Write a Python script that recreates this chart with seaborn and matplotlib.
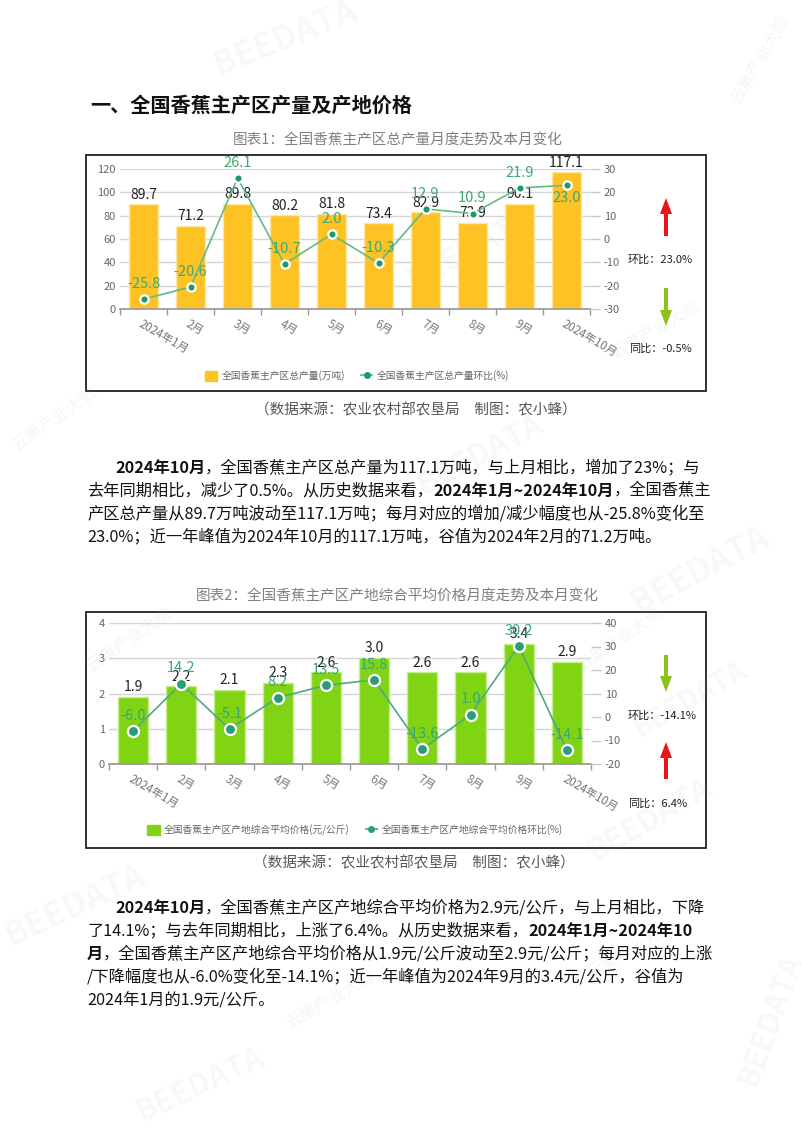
import numpy as np
import pandas as pd
import matplotlib
matplotlib.use("Agg")
import matplotlib.pyplot as plt
import seaborn as sns
from matplotlib.patches import Patch, Rectangle
from matplotlib.lines import Line2D

# 数据
months = ["2024年1月", "2月", "3月", "4月", "5月", "6月", "7月", "8月", "9月", "2024年10月"]
output = [89.7, 71.2, 89.8, 80.2, 81.8, 73.4, 82.9, 73.9, 90.1, 117.1]
output_mom = [-25.8, -20.6, 26.1, -10.7, 2.0, -10.3, 12.9, 10.9, 21.9, 23.0]
price = [1.9, 2.2, 2.1, 2.3, 2.6, 3.0, 2.6, 2.6, 3.4, 2.9]
price_mom = [-6.0, 14.2, -5.1, 8.2, 13.5, 15.8, -13.6, 1.0, 30.2, -14.1]

sns.set_theme(style="white")
plt.rcParams['font.family'] = ['Noto Sans CJK SC', 'DejaVu Sans']
plt.rcParams['axes.unicode_minus'] = False

W, H = 802, 1133
fig = plt.figure(figsize=(W / 100, H / 100), dpi=100)
fig.patch.set_facecolor("white")

# 背景层，按像素坐标排版
bg = fig.add_axes([0, 0, 1, 1], zorder=0)
bg.set_xlim(0, W)
bg.set_ylim(H, 0)
bg.axis("off")


def frac(x0, y0, x1, y1):
    return [x0 / W, 1 - y1 / H, (x1 - x0) / W, (y1 - y0) / H]


def draw_chart(box, vals, mom, bar_color, edge_color, line_color, dot_color, lab_color,
               ylim_l, yticks_l, ylim_r, yticks_r, names, legend_xy, below=(), ms=6.5):
    ax = fig.add_axes(frac(*box), zorder=2)
    ax.patch.set_alpha(0)
    df = pd.DataFrame({"月份": months, "值": vals, "环比": mom, "pos": range(len(months))})
    sns.barplot(data=df, x="月份", y="值", color=bar_color, width=0.63, saturation=1,
                edgecolor=edge_color, linewidth=1, ax=ax)
    ax.bar_label(ax.containers[0], fmt="%.1f", padding=2, fontsize=10, color="#222")
    ax.set_ylim(*ylim_l)
    ax.set_yticks(yticks_l)
    ax.yaxis.grid(True, color="#d6d6d6", lw=1)
    ax.set_axisbelow(True)
    for s in ["left", "right", "top"]:
        ax.spines[s].set_visible(False)
    ax.spines["bottom"].set_color("#999")
    ax.set_xlabel("")
    ax.set_ylabel("")
    ax.tick_params(axis="y", length=0, labelsize=8, labelcolor="#666", pad=3)
    ax.set_xticks(range(len(months)))
    ax.set_xticklabels(months, rotation=-30, ha="left", rotation_mode="anchor",
                       fontsize=8.3, color="#777")
    ax.set_xticks(np.arange(-0.5, len(months), 1), minor=True)
    ax.tick_params(axis="x", which="major", length=0, pad=6)
    ax.tick_params(axis="x", which="minor", bottom=True, length=4, color="#999")

    axr = ax.twinx()
    sns.lineplot(data=df, x="pos", y="环比", ax=axr, color=line_color, lw=1.2,
                 marker="o", markersize=ms, markerfacecolor=dot_color,
                 markeredgecolor="white", markeredgewidth=1.6, zorder=5)
    for i, v in enumerate(mom):
        dy = -14 if i in below else 6
        axr.annotate(f"{v:.1f}", (i, v), xytext=(0, dy), textcoords="offset points",
                     ha="center", va="bottom", fontsize=10.5, color=lab_color, zorder=6)
    axr.set_ylim(*ylim_r)
    axr.set_yticks(yticks_r)
    for s in axr.spines.values():
        s.set_visible(False)
    axr.set_ylabel("")
    axr.tick_params(axis="y", right=True, length=7, width=1, color="#c8c8c8",
                    labelsize=8, labelcolor="#666", pad=3)
    ax.set_xlim(-0.5, len(months) - 0.5)

    handles = [Patch(facecolor=bar_color, edgecolor=bar_color),
               Line2D([0], [0], color=line_color, lw=1.2, ls="--", marker="o",
                      markersize=4, markerfacecolor=dot_color, markeredgecolor=dot_color)]
    fig.legend(handles, names, loc="center", ncol=2, frameon=False,
               bbox_to_anchor=(legend_xy[0] / W, 1 - legend_xy[1] / H),
               fontsize=7, labelcolor="#666", handlelength=1.3, handleheight=1.1,
               handletextpad=0.4, columnspacing=1.6)
    return ax


def arrow(x, y0, y1, color):
    bg.arrow(x, y0, 0, y1 - y0, width=4, head_width=12, head_length=16,
             length_includes_head=True, color=color, lw=0)


def rich_line(x, y, parts, size=11.7):
    r = fig.canvas.get_renderer()
    for s, bold in parts:
        t = bg.text(x, y, s, fontsize=size, fontweight="bold" if bold else "normal",
                    ha="left", va="center", color="#111")
        x += t.get_window_extent(renderer=r).width


# 水印
for (wx, wy, rot, sz) in [(285, 38, 22, 24), (470, 250, 28, 22), (480, 455, 28, 22),
                          (75, 905, 25, 24), (700, 570, 28, 24), (200, 1085, 25, 22),
                          (650, 820, 30, 22), (770, 1020, 70, 22), (690, 700, 30, 20)]:
    bg.text(wx, wy, "BEEDATA", rotation=rot, fontsize=sz, fontweight="bold",
            color="#9aa4b8", alpha=0.07, ha="center", va="center")
for (wx, wy, rot) in [(655, 330, 30), (55, 420, 35), (130, 640, 35), (620, 640, 35),
                      (330, 1000, 30), (760, 60, 60), (630, 950, 30)]:
    bg.text(wx, wy, "云果产业大脑", rotation=rot, fontsize=12, color="#6fbf7f",
            alpha=0.1, ha="center", va="center")

# 标题与说明
bg.text(90, 105, "一、全国香蕉主产区产量及产地价格", fontsize=14.5, fontweight="bold",
        ha="left", va="center", color="#111")
bg.text(398, 140, "图表1：全国香蕉主产区总产量月度走势及本月变化", fontsize=10.5,
        ha="center", va="center", color="#808080")
bg.text(397, 597, "图表2：全国香蕉主产区产地综合平均价格月度走势及本月变化", fontsize=10.5,
        ha="center", va="center", color="#808080")
bg.text(416, 410, "（数据来源：农业农村部农垦局　制图：农小蜂）", fontsize=10.5,
        ha="center", va="center", color="#555")
bg.text(414, 863, "（数据来源：农业农村部农垦局　制图：农小蜂）", fontsize=10.5,
        ha="center", va="center", color="#555")

# 图框
bg.add_patch(Rectangle((86, 155), 620, 236, fill=False, ec="#222", lw=1.3))
bg.add_patch(Rectangle((86, 612), 620, 236, fill=False, ec="#222", lw=1.3))

# 图表1
draw_chart((120, 169, 590, 309), output, output_mom, "#FDC224", "#fde7a6", "#62bb86",
           "#1c9a6a", "#3fa96f", (0, 120), range(0, 121, 20), (-30, 30), range(-30, 31, 10),
           ["全国香蕉主产区总产量(万吨)", "全国香蕉主产区总产量环比(%)"], (357, 376),
           below=(9,), ms=6)
arrow(666, 236, 198, "#e8141b")
arrow(666, 288, 326, "#8cc21c")
bg.text(628, 260, "环比：23.0%", fontsize=8, ha="left", va="center", color="#222")
bg.text(629, 349, "同比：-0.5%", fontsize=8, ha="left", va="center", color="#222")

# 图表2
draw_chart((109, 623, 591, 764), price, price_mom, "#80D414", "#c4ee8a", "#4fa882",
           "#2a9c76", "#3aa57a", (0, 4), range(0, 5), (-20, 40), range(-20, 41, 10),
           ["全国香蕉主产区产地综合平均价格(元/公斤)", "全国香蕉主产区产地综合平均价格环比(%)"],
           (355, 830), ms=8)
arrow(666, 655, 692, "#8cc21c")
arrow(666, 779, 742, "#e8141b")
bg.text(628, 716, "环比：-14.1%", fontsize=8, ha="left", va="center", color="#222")
bg.text(628, 804, "同比：6.4%", fontsize=8, ha="left", va="center", color="#222")

# 正文段落
rich_line(115, 468, [("2024年10月", True),
                     ("，全国香蕉主产区总产量为117.1万吨，与上月相比，增加了23%；与", False)])
rich_line(87, 491, [("去年同期相比，减少了0.5%。从历史数据来看，", False),
                    ("2024年1月~2024年10月", True), ("，全国香蕉主", False)])
rich_line(87, 514, [("产区总产量从89.7万吨波动至117.1万吨；每月对应的增加/减少幅度也从-25.8%变化至", False)])
rich_line(87, 537, [("23.0%；近一年峰值为2024年10月的117.1万吨，谷值为2024年2月的71.2万吨。", False)])

rich_line(115, 908, [("2024年10月", True),
                     ("，全国香蕉主产区产地综合平均价格为2.9元/公斤，与上月相比，下降", False)])
rich_line(87, 931, [("了14.1%；与去年同期相比，上涨了6.4%。从历史数据来看，", False),
                    ("2024年1月~2024年10", True)])
rich_line(87, 954, [("月", True),
                    ("，全国香蕉主产区产地综合平均价格从1.9元/公斤波动至2.9元/公斤；每月对应的上涨", False)])
rich_line(87, 977, [("/下降幅度也从-6.0%变化至-14.1%；近一年峰值为2024年9月的3.4元/公斤，谷值为", False)])
rich_line(87, 1000, [("2024年1月的1.9元/公斤。", False)])

fig.savefig("out.png", dpi=100)
